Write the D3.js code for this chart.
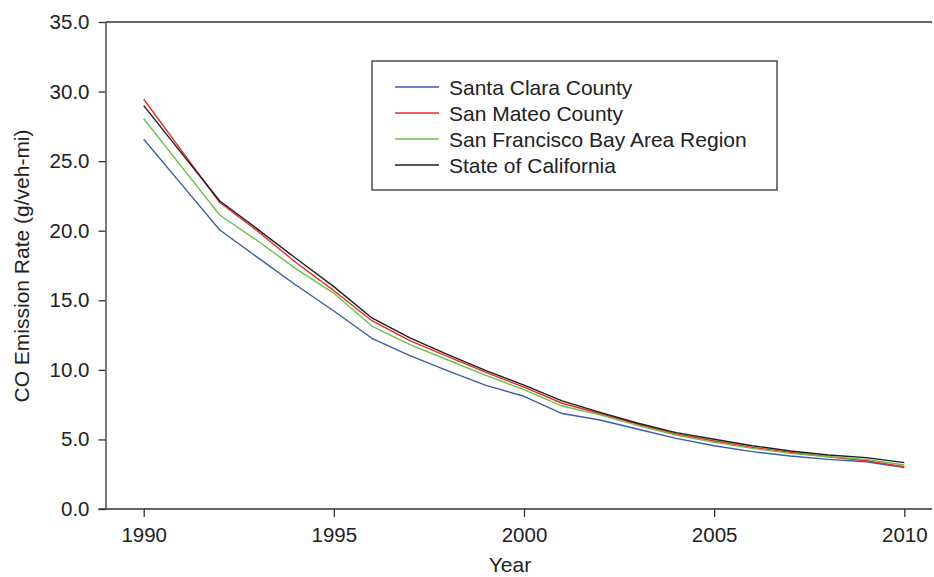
<!DOCTYPE html>
<html>
<head>
<meta charset="utf-8">
<script src="https://cdn.jsdelivr.net/npm/d3@7/dist/d3.min.js"></script>
<style>
  html, body { margin: 0; padding: 0; background: #fff; }
  svg { display: block; }
  text { font-family: "Liberation Sans", Arial, sans-serif; fill: #222; }
</style>
</head>
<body>
<svg id="chart" width="934" height="577"></svg>
<script>
// CO emission rates by year (g/veh-mi)
const years = [1990, 1991, 1992, 1993, 1994, 1995, 1996, 1997, 1998, 1999, 2000,
               2001, 2002, 2003, 2004, 2005, 2006, 2007, 2008, 2009, 2010];
const santaClara = [26.57, 23.31, 20.05, 18.07, 16.10, 14.23, 12.27, 11.02, 9.93, 8.88, 8.10,
                    6.86, 6.40, 5.73, 5.08, 4.55, 4.12, 3.81, 3.57, 3.40, 2.97];
const sanMateo   = [29.45, 25.74, 22.03, 19.96, 17.72, 15.69, 13.53, 12.10, 10.95, 9.82, 8.76,
                    7.60, 6.86, 6.09, 5.39, 4.89, 4.43, 4.07, 3.76, 3.47, 3.04];
const bayArea    = [28.05, 24.59, 21.13, 19.26, 17.28, 15.50, 13.15, 11.82, 10.71, 9.60, 8.58,
                    7.40, 6.76, 5.99, 5.32, 4.79, 4.36, 4.00, 3.76, 3.57, 3.16];
const california = [28.99, 25.56, 22.14, 20.10, 18.02, 15.98, 13.73, 12.30, 11.10, 9.95, 8.90,
                    7.77, 6.94, 6.16, 5.49, 5.01, 4.55, 4.17, 3.88, 3.69, 3.33];

const seriesNames  = ["Santa Clara County", "San Mateo County",
                      "San Francisco Bay Area Region", "State of California"];
const seriesValues = [santaClara, sanMateo, bayArea, california];
const seriesColors = ["#3a5bb0", "#ee2a2a", "#6cc04a", "#1e1e1e"];

const xTicks = [1990, 1995, 2000, 2005, 2010];
const yTicks = [0, 5, 10, 15, 20, 25, 30, 35];

const svg = d3.select("#chart");

const x = d3.scaleLinear().domain([1990, 2010]).range([143.7, 904.3]);
const y = d3.scaleLinear().domain([0, 35]).range([509, 22]);

const axisLeftX = 105.5;
const axisRightX = 932;

// frame: top line
svg.append("line")
  .attr("x1", axisLeftX).attr("x2", axisRightX)
  .attr("y1", y(35)).attr("y2", y(35))
  .attr("stroke", "#333").attr("stroke-width", 1.3);

// y axis
const yAxis = svg.append("g")
  .attr("transform", `translate(${axisLeftX},0)`)
  .call(d3.axisLeft(y).tickValues(yTicks).tickFormat(d3.format(".1f"))
    .tickSize(7).tickPadding(9).tickSizeOuter(0));
yAxis.select(".domain").attr("stroke", "#333").attr("stroke-width", 1.3);
yAxis.selectAll(".tick line").attr("stroke", "#333").attr("stroke-width", 1.3);
yAxis.selectAll(".tick text")
  .attr("font-size", 20.5).attr("fill", "#222")
  .style("font-family", "'Liberation Sans', Arial, sans-serif");

// x axis
const xAxis = svg.append("g")
  .attr("transform", `translate(0,${y(0)})`)
  .call(d3.axisBottom(x).tickValues(xTicks).tickFormat(d3.format("d"))
    .tickSize(8).tickPadding(10).tickSizeOuter(0));
xAxis.select(".domain").remove();
xAxis.append("line")
  .attr("x1", axisLeftX - 7).attr("x2", axisRightX)
  .attr("y1", 0).attr("y2", 0)
  .attr("stroke", "#333").attr("stroke-width", 1.3);
xAxis.selectAll(".tick line").attr("stroke", "#333").attr("stroke-width", 1.3);
xAxis.selectAll(".tick text")
  .attr("font-size", 20.5).attr("fill", "#222")
  .style("font-family", "'Liberation Sans', Arial, sans-serif");

// axis titles
svg.append("text")
  .attr("x", 510).attr("y", 572)
  .attr("text-anchor", "middle")
  .attr("font-size", 21)
  .text("Year");

svg.append("text")
  .attr("transform", "translate(29,266) rotate(-90)")
  .attr("text-anchor", "middle")
  .attr("font-size", 21)
  .text("CO Emission Rate (g/veh-mi)");

// series lines
const line = d3.line()
  .x((d, i) => x(years[i]))
  .y(d => y(d));

seriesValues.forEach((vals, k) => {
  svg.append("path")
    .datum(vals)
    .attr("d", line)
    .attr("fill", "none")
    .attr("stroke", seriesColors[k])
    .attr("stroke-width", 1.4)
    .attr("stroke-linejoin", "round");
});

// legend
const legend = svg.append("g").attr("transform", "translate(372,61)");
legend.append("rect")
  .attr("x", 0).attr("y", 0)
  .attr("width", 405).attr("height", 129)
  .attr("fill", "#fff")
  .attr("stroke", "#333").attr("stroke-width", 1.3);

seriesNames.forEach((name, k) => {
  const cy = 26 + k * 26;
  legend.append("line")
    .attr("x1", 23).attr("x2", 67)
    .attr("y1", cy).attr("y2", cy)
    .attr("stroke", seriesColors[k]).attr("stroke-width", 1.4);
  legend.append("text")
    .attr("x", 77).attr("y", cy)
    .attr("dy", "0.36em")
    .attr("font-size", 21)
    .text(name);
});
</script>
</body>
</html>
